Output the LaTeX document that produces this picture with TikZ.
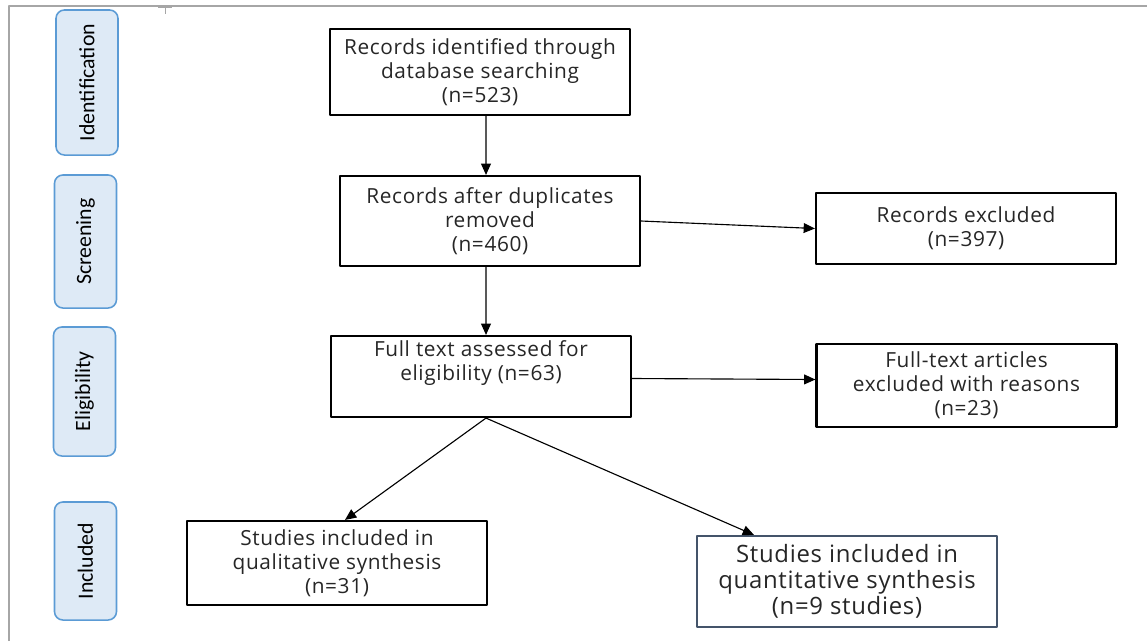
\documentclass[tikz,border=0pt]{standalone}
\usepackage{fontspec}
\setmainfont[LetterSpace=3]{Open Sans}
\newfontfamily\stagefont{Carlito}
\usetikzlibrary{arrows.meta}
\definecolor{stageblue}{HTML}{5B9BD5}
\definecolor{stagefill}{HTML}{DEEAF6}
\definecolor{slateline}{HTML}{44546A}
\definecolor{framegray}{HTML}{A6A6A6}
\begin{document}
\begin{tikzpicture}[x=0.025cm, y=-0.025cm, line join=round,
    font=\fontsize{14.8}{17}\selectfont,
    flowbox/.style={draw=black, line width=1.5pt, align=center, minimum width=7.5cm, inner sep=2pt, text=black!85},
    stagebox/.style={draw=stageblue, line width=1.1pt, fill=stagefill, rounded corners=6pt, rotate=90,
        font=\stagefont\fontsize{15.5}{16}\selectfont, minimum height=1.55cm, inner sep=1pt},
    arr/.style={-{Triangle[length=8pt,width=7pt]}, line width=0.8pt}]
    \useasboundingbox (0,0) rectangle (1147,641);
    % --- frame ---
    \draw[framegray, line width=1.2pt] (9,641) -- (9,6) -- (1147,6);
    \draw[framegray, line width=0.6pt] (158,7) -- (172,7) (165,7) -- (165,14);
    % --- stages ---
    \node[stagebox, minimum width=3.625cm] (sid) at (87,82.5) {Identification};
    \node[stagebox, minimum width=3.325cm] (sscr) at (85.5,241.5) {Screening};
    \node[stagebox, minimum width=3.225cm] (selig) at (84.5,391.5) {Eligibility};
    \node[stagebox, minimum width=2.95cm] (sincl) at (85.5,561) {Included};
    % --- boxes ---
    \node[flowbox, minimum height=2.15cm] (ident) at (480,72) {Records identified through\\database searching\\(n=523)};
    \node[flowbox, minimum height=2.25cm] (dupl) at (490,221) {Records after duplicates\\removed\\(n=460)};
    \node[flowbox, minimum height=1.775cm] (excl) at (966,228.5) {Records excluded\\(n=397)};
    \node[flowbox, minimum height=2.025cm] (full) at (481,376.5) {Full text assessed for\\eligibility (n=63)\\[6pt]};
    \node[flowbox, minimum height=2.075cm] (fexcl) at (966.5,385.5) {Full-text articles\\excluded with reasons\\(n=23)};
    \node[flowbox, minimum height=2.1cm] (qual) at (337,563) {Studies included in\\qualitative synthesis\\(n=31)};
    \node[flowbox, draw=slateline, minimum height=2.275cm, font=\fontsize{17}{18.5}\selectfont] (quant) at (847,581.5) {Studies included in\\quantitative synthesis\\(n=9 studies)};
    % --- arrows ---
    \draw[arr] ([xshift=0.15cm]ident.south) -- ([xshift=-0.1cm]dupl.north);
    \draw[arr] (dupl.east) -- (excl.west);
    \draw[arr] ([xshift=-0.1cm]dupl.south) -- ([xshift=0.125cm]full.north);
    \draw[arr] ([yshift=-0.05cm]full.east) -- ([yshift=0.15cm]fexcl.west);
    \draw[arr] ([xshift=0.125cm]full.south) -- ([xshift=0.2cm]qual.north);
    \draw[arr] ([xshift=0.125cm]full.south) -- ([xshift=-2.325cm]quant.north);
\end{tikzpicture}
\end{document}
